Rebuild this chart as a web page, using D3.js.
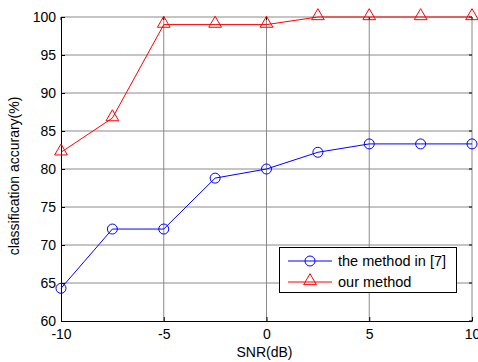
<!DOCTYPE html>
<html>
<head>
<meta charset="utf-8">
<script src="https://cdn.jsdelivr.net/npm/d3@7"></script>
<style>
body { margin: 0; background: #fff; }
text { font-family: "Liberation Sans", Arial, sans-serif; }
</style>
</head>
<body>
<script>
// data
var snr = [-10, -7.5, -5, -2.5, 0, 2.5, 5, 7.5, 10];
var method7 = [64.3, 72.1, 72.1, 78.8, 80, 82.2, 83.3, 83.3, 83.3];
var ours = [82.2, 86.7, 99, 99, 99, 100, 100, 100, 100];
var xTicks = [-10, -5, 0, 5, 10];
var yTicks = [60, 65, 70, 75, 80, 85, 90, 95, 100];

var w = 478, h = 362;
var mLeft = 61, mRight = 472, mTop = 17, mBottom = 321;

var svg = d3.select("body").append("svg")
    .attr("width", w)
    .attr("height", h);

var x = d3.scaleLinear().domain([-10, 10]).range([mLeft, mRight]);
var y = d3.scaleLinear().domain([60, 100]).range([mBottom, mTop]);

// grid
svg.append("g").selectAll("line")
    .data(xTicks.slice(1))
    .enter().append("line")
    .attr("x1", function (d) { return x(d); })
    .attr("x2", function (d) { return x(d); })
    .attr("y1", mTop).attr("y2", mBottom)
    .style("stroke", "#8a8a8a").style("stroke-width", 1);

svg.append("g").selectAll("line")
    .data(yTicks.slice(1))
    .enter().append("line")
    .attr("y1", function (d) { return y(d); })
    .attr("y2", function (d) { return y(d); })
    .attr("x1", mLeft).attr("x2", mRight)
    .style("stroke", "#8a8a8a").style("stroke-width", 1);

// small ticks on top and right
svg.append("g").selectAll("line")
    .data(xTicks)
    .enter().append("line")
    .attr("x1", function (d) { return x(d); })
    .attr("x2", function (d) { return x(d); })
    .attr("y1", mTop).attr("y2", mTop + 3)
    .style("stroke", "#000");
svg.append("g").selectAll("line")
    .data(yTicks)
    .enter().append("line")
    .attr("y1", function (d) { return y(d); })
    .attr("y2", function (d) { return y(d); })
    .attr("x1", mRight - 3).attr("x2", mRight)
    .style("stroke", "#000");

// axes
var fmt = function (d) { return String(d); };
var xAxis = d3.axisBottom(x).tickValues(xTicks).tickFormat(fmt).tickSizeInner(-4).tickSizeOuter(0).tickPadding(8);
var yAxis = d3.axisLeft(y).tickValues(yTicks).tickFormat(fmt).tickSizeInner(-4).tickSizeOuter(0).tickPadding(5);

var gx = svg.append("g").attr("transform", "translate(0," + mBottom + ")").call(xAxis);
var gy = svg.append("g").attr("transform", "translate(" + mLeft + ",0)").call(yAxis);
[gx, gy].forEach(function (g) {
    g.select(".domain").style("stroke", "#000");
    g.selectAll(".tick line").style("stroke", "#000");
    g.selectAll("text").style("font-size", "14px").style("fill", "#000")
        .style("font-family", "Liberation Sans, Arial, sans-serif");
});

// labels
svg.append("text")
    .attr("x", (mLeft + mRight) / 2 - 2)
    .attr("y", 357)
    .attr("text-anchor", "middle")
    .style("font-size", "14px")
    .text("SNR(dB)");

svg.append("text")
    .attr("transform", "translate(19,176) rotate(-90)")
    .attr("text-anchor", "middle")
    .style("font-size", "14px")
    .text("classification accurary(%)");

// lines
var line = d3.line()
    .x(function (d) { return x(d[0]); })
    .y(function (d) { return y(d[1]); });

var blueData = d3.zip(snr, method7);
var redData = d3.zip(snr, ours);

svg.append("path").datum(blueData).attr("d", line)
    .style("fill", "none").style("stroke", "#0000ff").style("stroke-width", 1);
svg.append("path").datum(redData).attr("d", line)
    .style("fill", "none").style("stroke", "#ff0000").style("stroke-width", 1);

var tri = d3.symbol().type(d3.symbolTriangle).size(70);

svg.append("g").selectAll("circle")
    .data(blueData)
    .enter().append("circle")
    .attr("cx", function (d) { return x(d[0]); })
    .attr("cy", function (d) { return y(d[1]); })
    .attr("r", 5)
    .style("fill", "none").style("stroke", "#0000ff").style("stroke-width", 1);

svg.append("g").selectAll("path")
    .data(redData)
    .enter().append("path")
    .attr("d", tri)
    .attr("transform", function (d) { return "translate(" + x(d[0]) + "," + (y(d[1]) - 1) + ")"; })
    .style("fill", "none").style("stroke", "#ff0000").style("stroke-width", 1);

// legend
var lg = svg.append("g");
lg.append("rect")
    .attr("x", 279.5).attr("y", 247.5).attr("width", 177).attr("height", 45)
    .style("fill", "#fff").style("stroke", "#000").style("stroke-width", 1);

var entries = [
    { name: "the method in [7]", color: "#0000ff", marker: "circle" },
    { name: "our method", color: "#ff0000", marker: "triangle" }
];
entries.forEach(function (e, i) {
    var yy = 261 + i * 21;
    lg.append("line").attr("x1", 288).attr("x2", 332).attr("y1", yy).attr("y2", yy)
        .style("stroke", e.color);
    if (e.marker === "circle") {
        lg.append("circle").attr("cx", 310).attr("cy", yy).attr("r", 5)
            .style("fill", "none").style("stroke", e.color);
    } else {
        lg.append("path").attr("d", tri).attr("transform", "translate(310," + (yy - 1) + ")")
            .style("fill", "none").style("stroke", e.color);
    }
    lg.append("text").attr("x", 338).attr("y", yy + 5)
        .style("font-size", "14.5px")
        .text(e.name);
});
</script>
</body>
</html>
